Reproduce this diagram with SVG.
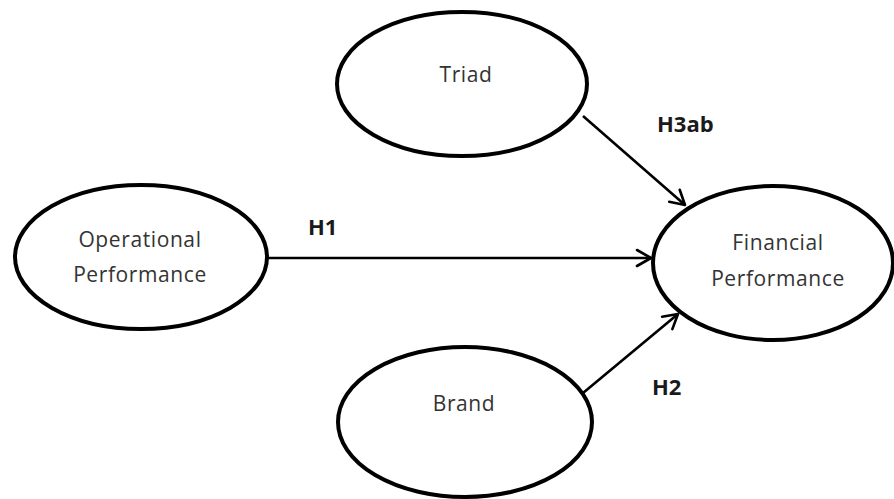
<svg xmlns="http://www.w3.org/2000/svg" width="894" height="499" viewBox="0 0 894 499">
<defs>
<style>
.node{fill:#fff;stroke:#000;stroke-width:4}
.lbl{font-family:"Open Sans","DejaVu Sans",sans-serif;font-size:21px;letter-spacing:0.6px;fill:#333;text-anchor:middle}
.hyp{font-family:"Open Sans","DejaVu Sans",sans-serif;font-size:22px;font-weight:bold;fill:#1a1a1a}
.edge{stroke:#000;stroke-width:2.6;fill:none}
</style>
<marker id="arr" viewBox="0 0 20 20" refX="18" refY="10" markerWidth="20" markerHeight="20" markerUnits="userSpaceOnUse" orient="auto">
<path d="M4,2 L18,10 L4,18" fill="none" stroke="#000" stroke-width="2.6" stroke-linecap="round" stroke-linejoin="round"/>
</marker>
</defs>
<rect width="894" height="499" fill="#fff"/>
<g id="connectors">
<line class="edge" x1="267" y1="258" x2="651" y2="258" marker-end="url(#arr)"/>
<line class="edge" x1="583" y1="116" x2="685" y2="205" marker-end="url(#arr)"/>
<line class="edge" x1="583" y1="393" x2="678" y2="314" marker-end="url(#arr)"/>
<text class="hyp" x="308" y="235">H1</text>
<text class="hyp" x="657" y="132">H3ab</text>
<text class="hyp" x="652" y="395">H2</text>
</g>
<g id="triad">
<ellipse class="node" cx="462" cy="84" rx="125" ry="72"/>
<text class="lbl" x="466" y="82">Triad</text>
</g>
<g id="operational">
<ellipse class="node" cx="141" cy="257" rx="126" ry="72"/>
<text class="lbl" x="140" y="247">Operational</text>
<text class="lbl" x="140" y="282">Performance</text>
</g>
<g id="financial">
<ellipse class="node" cx="773" cy="263" rx="120" ry="77"/>
<text class="lbl" x="778" y="250">Financial</text>
<text class="lbl" x="778" y="286">Performance</text>
</g>
<g id="brand">
<ellipse class="node" cx="465" cy="422" rx="127" ry="75"/>
<text class="lbl" x="464" y="411">Brand</text>
</g>
</svg>
